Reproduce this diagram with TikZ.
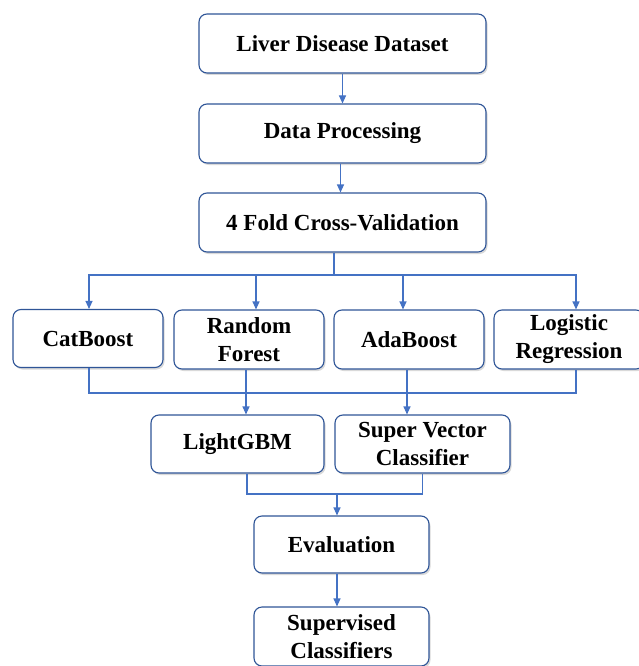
\documentclass[tikz,border=0pt]{standalone}
\usepackage{fontspec}
\setmainfont{Liberation Serif}
\usetikzlibrary{arrows.meta,shadows}
\definecolor{lineblue}{RGB}{68,114,196}
\definecolor{boxblue}{RGB}{47,85,151}

\begin{document}
\begin{tikzpicture}[x=1pt,y=-1pt,
  box/.style={draw=boxblue, line width=1.1pt, rounded corners=8pt, fill=white,
    drop shadow={shadow xshift=1.5pt, shadow yshift=-2pt, opacity=0.3},
    font=\bfseries\fontsize{23}{28}\selectfont, align=center, inner sep=0pt},
  link/.style={lineblue, line width=1.1pt},
  arr/.style={link, -{Triangle[length=8pt,width=7pt]}}]
  \useasboundingbox (0,0) rectangle (638,666);
  % main column
  \node[box, minimum width=287pt, minimum height=59pt] (data) at (342.5, 43.5) {Liver Disease Dataset};
  \node[box, minimum width=287pt, minimum height=59pt] (proc) at (342.5,133.5) {Data Processing};
  \node[box, minimum width=287pt, minimum height=59pt] (cv)   at (342.5,222.5) {4 Fold Cross-Validation};
  % models
  \node[box, minimum width=150pt, minimum height=58pt] (cat) at ( 88,338.5) {CatBoost};
  \node[box, minimum width=150pt, minimum height=59pt] (rf)  at (249,339.5) {Random\\Forest};
  \node[box, minimum width=150pt, minimum height=59pt] (ada) at (409,339.5) {AdaBoost};
  \node[box, minimum width=150pt, minimum height=59pt] (lr)  at (569,339.5) {Logistic\\Regression};
  \node[box, minimum width=173pt, minimum height=58pt] (lgbm) at (237.5,444) {LightGBM};
  \node[box, minimum width=175pt, minimum height=58pt] (svc)  at (422.5,444) {Super Vector\\Classifier};
  % results
  \node[box, minimum width=175pt, minimum height=57pt] (eval) at (341.5,544.5) {Evaluation};
  \node[box, minimum width=175pt, minimum height=59pt] (sup)  at (341.5,636.5) {Supervised\\Classifiers};
  \coordinate (split) at (334,275);
  \coordinate (merge) at (337,494);

  \draw[arr] (data) -- (proc);
  \draw[arr] ([xshift=-2pt]proc.south) -- ([xshift=-2pt]cv.north);
  \draw[link] (split |- cv.south) -- (split);
  \draw[arr] (split) -| ([xshift=1pt]cat.north);
  \draw[arr] (split) -| ([xshift=7pt]rf.north);
  \draw[arr] (split) -| ([xshift=-6pt]ada.north);
  \draw[arr] (split) -| ([xshift=7pt]lr.north);
  \draw[link] ([xshift=1pt]cat.south) -- ([xshift=1pt]cat.south |- 0,393) -- ([xshift=7pt]lr.south |- 0,393) -- ([xshift=7pt]lr.south);
  \draw[arr] ([xshift=-3pt]rf.south) -- ([xshift=-3pt]rf.south |- lgbm.north);
  \draw[arr] ([xshift=-2pt]ada.south) -- ([xshift=-2pt]ada.south |- svc.north);
  \draw[link] ([xshift=9.5pt]lgbm.south) |- (merge) -| (svc.south);
  \draw[arr] (merge) -- (merge |- eval.north);
  \draw[arr] (merge |- eval.south) -- (merge |- sup.north);
\end{tikzpicture}
\end{document}
